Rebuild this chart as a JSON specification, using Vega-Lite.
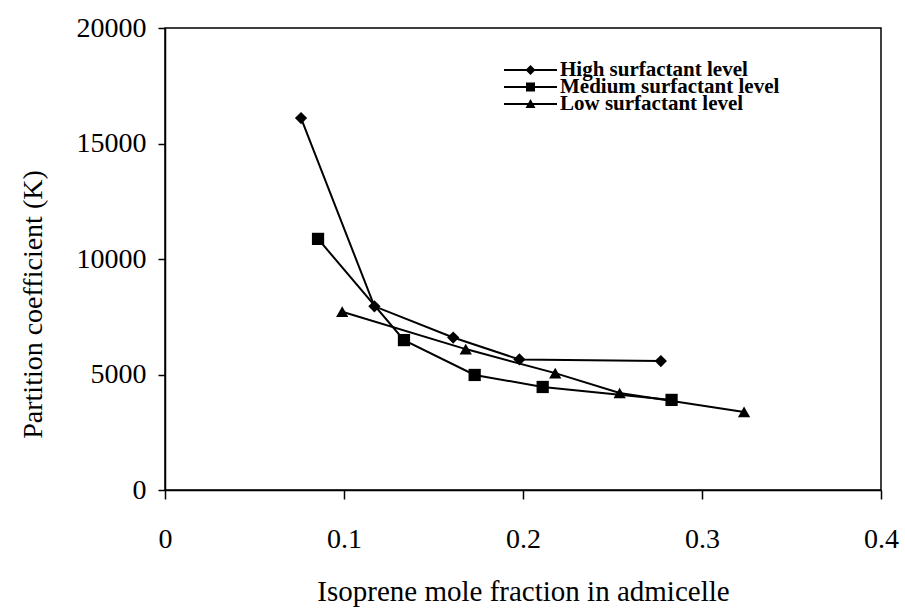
{
  "$schema": "https://vega.github.io/schema/vega-lite/v6.json",
  "autosize": {"type": "none"},
  "width": 716,
  "height": 462,
  "padding": {"left": 165, "top": 28, "right": 24, "bottom": 125},
  "background": "white",
  "config": {
    "view": {"stroke": "black", "strokeWidth": 1.5},
    "font": "Liberation Serif",
    "axis": {"grid": false, "domainColor": "black", "domainWidth": 1.5, "tickColor": "black", "tickWidth": 1.5, "labelColor": "black", "titleColor": "black", "labelFont": "Liberation Serif", "titleFont": "Liberation Serif", "titleFontWeight": "normal"}
  },
  "datasets": {
    "pts": [
      {"series": "High surfactant level", "x": 0.076, "k": 16100},
      {"series": "High surfactant level", "x": 0.117, "k": 7950},
      {"series": "High surfactant level", "x": 0.161, "k": 6600},
      {"series": "High surfactant level", "x": 0.198, "k": 5650},
      {"series": "High surfactant level", "x": 0.277, "k": 5580},
      {"series": "Medium surfactant level", "x": 0.0855, "k": 10870},
      {"series": "Medium surfactant level", "x": 0.1335, "k": 6490},
      {"series": "Medium surfactant level", "x": 0.173, "k": 4980},
      {"series": "Medium surfactant level", "x": 0.211, "k": 4460},
      {"series": "Medium surfactant level", "x": 0.283, "k": 3900},
      {"series": "Low surfactant level", "x": 0.099, "k": 7720},
      {"series": "Low surfactant level", "x": 0.168, "k": 6100},
      {"series": "Low surfactant level", "x": 0.218, "k": 5060},
      {"series": "Low surfactant level", "x": 0.254, "k": 4200},
      {"series": "Low surfactant level", "x": 0.3235, "k": 3380}
    ]
  },
  "data": {"name": "pts"},
  "encoding": {
    "x": {"field": "x", "type": "quantitative",
      "scale": {"domain": [0, 0.4], "nice": false, "zero": false},
      "axis": {"values": [0, 0.1, 0.2, 0.3, 0.4], "format": ".1~f", "title": "Isoprene mole fraction in admicelle",
        "labelFontSize": 28, "labelPadding": 26, "tickSize": 9, "titleFontSize": 29, "titleY": 110, "titleX": 358, "titleBaseline": "alphabetic", "titleAlign": "center", "labelFlush": false}},
    "y": {"field": "k", "type": "quantitative",
      "scale": {"domain": [0, 20000], "nice": false},
      "axis": {"values": [0, 5000, 10000, 15000, 20000], "format": "d", "title": "Partition coefficient (K)",
        "labelFontSize": 28, "labelPadding": 12, "tickSize": 7, "titleFontSize": 28, "titleAngle": -90, "titleX": -124, "titleY": 276, "titleBaseline": "alphabetic", "titleAlign": "center", "labelFlush": false}}
  },
  "layer": [
    {
      "mark": {"type": "line", "color": "black", "strokeWidth": 2},
      "encoding": {"detail": {"field": "series"}}
    },
    {
      "mark": {"type": "point", "filled": true, "color": "black", "opacity": 1, "size": 150},
      "encoding": {
        "shape": {"field": "series", "type": "nominal",
          "scale": {"domain": ["High surfactant level", "Medium surfactant level", "Low surfactant level"], "range": ["diamond", "square", "triangle-up"]},
          "legend": null}
      }
    },
    {
      "transform": [{"filter": "false"}],
      "mark": {"type": "point", "filled": true, "color": "black", "opacity": 1},
      "encoding": {
        "shape": {"field": "series", "type": "nominal",
          "scale": {"domain": ["High surfactant level", "Medium surfactant level", "Low surfactant level"],
            "range": ["M-5.3,-0.2H5.3V0.2H-5.3ZM0,-1L1,0L0,1L-1,0Z", "M-5.3,-0.2H5.3V0.2H-5.3ZM-0.9,-0.9H0.9V0.9H-0.9Z", "M-5.3,-0.2H5.3V0.2H-5.3ZM0,-1L1,0.8H-1Z"]},
          "legend": {"orient": "none", "legendX": 336, "legendY": 35, "title": null, "padding": 0,
            "symbolSize": 100, "symbolOffset": 19, "symbolFillColor": "black", "symbolStrokeColor": "black", "symbolStrokeWidth": 0, "symbolOpacity": 1,
            "labelFont": "Liberation Serif", "labelFontSize": 21, "labelFontWeight": "bold", "labelColor": "black", "labelOffset": 19,
            "clipHeight": 14, "rowPadding": -5, "labelLimit": 400,
            "encode": {"symbols": {"update": {"fill": {"value": "black"}, "opacity": {"value": 1}}}}}}
      }
    }
  ],
  "resolve": {"scale": {"shape": "independent"}}
}
